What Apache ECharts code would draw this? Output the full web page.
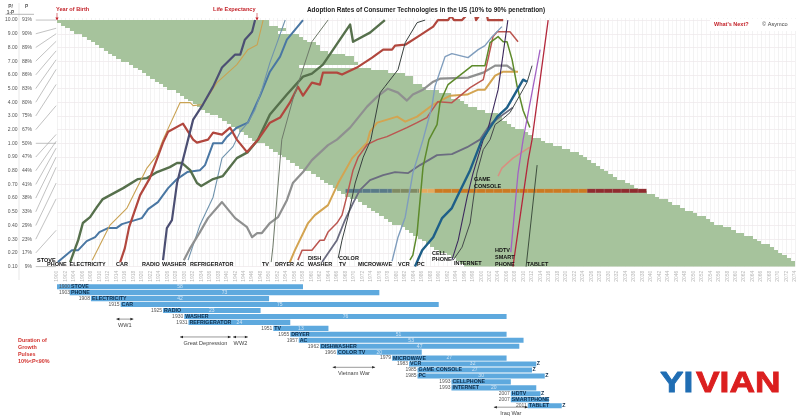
<!DOCTYPE html>
<html><head><meta charset="utf-8">
<style>html,body{margin:0;padding:0;background:#fff}#c{width:800px;height:417px}</style>
<script src="https://cdn.jsdelivr.net/npm/echarts@6/dist/echarts.min.js"></script>
</head><body><div id="c"></div>
<script>
const ratioTicks=['0.10','0.20','0.30','0.40','0.50','0.60','0.70','0.80','0.90','1.00','2.00','3.00','4.00','5.00','6.00','7.00','8.00','9.00','10.00'];
const percentTicks=['9%','17%','23%','29%','33%','38%','41%','44%','47%','50%','67%','75%','80%','83%','86%','88%','89%','90%','91%'];
const leaderTargets=[0,2.65,4.95,6.1,7.25,8.0,8.65,9.15,9.65,9,11.75,13.3,14.4,15.1,15.75,16.45,17,17.4,18];

const rowBirth=[1900,1901,1902,1903,1904,1906,1907,1908,1909,1910,1911,1912,1913,1914,1915,1917,1918,1919,1920,1921,1922,1923,1924,1925,1926,1928,1929,1930,1931,1932,1933,1934,1935,1936,1938,1939,1940,1941,1942,1943,1944,1945,1946,1947,1949,1950,1951,1952,1953,1954,1955,1956,1957,1958,1960,1961,1962,1963,1964,1965,1966,1967,1968,1969,1971,1972,1973,1974,1975,1976,1977,1978,1979,1981,1982,1983,1984,1985,1986,1987,1988,1989,1990,1992,1993,1994,1995,1996];
const rowEnd=[1950,1950,1952,1954,1952,1957,1958,1959,1961,1962,1962,1964,1968,1970,1970,1971,1957,1974,1978,1982,1984,1984,1984,1986,1987,1990,1993,1993,1995,1996,1997,1999,2001,2004,2005,2005,2006,2007,2008,2010,2011,2012,2014,2015,2017,2019,2021,2023,2024,2025,2026,2027,2028,2029,2030,2031,2032,2034,2035,2036,2037,2039,2041,2042,2044,2045,2047,2048,2050,2051,2053,2054,2055,2057,2059,2060,2062,2064,2065,2066,2068,2069,2070,2071,2072,2073,2074,2074];

const stripRatio=0.653;
const stripFrom=[1968,1979,1985.4,1989,2025];
const stripTo=[1979,1985.4,1989,2025,2039];
const stripColors=['#587a87','#7f8a62','#e4aa5e','#cb7a22','#8f2b2f'];

const stove=[[1900.2,.133],[1903.5,.22],[1905,.22],[1907,.286],[1909,.315],[1910,.352],[1912,.381],[1914,.381],[1915.3,.41],[1920,.454],[1921.5,.52],[1923.8,.571],[1926.2,.673],[1928.3,.739],[1930.7,.79],[1933.7,.804],[1934.9,.841],[1936.8,1],[1938.9,1],[1939.9,1.42],[1942.4,2.15],[1945,2.51],[1947.9,4.48],[1950.2,6.23],[1952.6,7.33],[1954.2,8.57],[1958,10]];
const refrigerator=[[1930.9,.147],[1933.7,.403],[1936.8,.607],[1938.9,.892],[1941.5,.976],[1943.2,1.85],[1945,2.51],[1946.7,3.46],[1948.3,4.92],[1950.2,6.89],[1951.9,8.35],[1953.8,10]];
const phone=[[1903.1,.133],[1905,.293],[1906.1,.418],[1907.8,.461],[1909.4,.534],[1910.8,.593],[1915.6,.673],[1919.1,.739],[1921.2,.746],[1923.6,.79],[1926.6,.826],[1928.3,.856],[1929.5,.856],[1931.4,.804],[1933,.71],[1934,.688],[1936.8,.739],[1939.1,.761],[1942.4,.892],[1945,.936],[1947.4,1.27],[1950.2,3.1],[1954.2,4.56],[1958,5.87],[1960.1,6.09],[1962.7,6.75],[1965.1,7.84],[1969.1,9.67],[1969.8,8.42],[1973.8,9.08],[1977.3,10]];
const electricity=[[1908.3,.147],[1912.5,.403],[1916.5,.527],[1921.2,.819],[1923.6,.914],[1925,1.27],[1929,3.97],[1931.4,3.97],[1932.1,3.75],[1934.4,3.83],[1937.7,5.43],[1942.4,6.75],[1945,7.84],[1947.2,8.2],[1948.6,10]];
const car=[[1914.9,.133],[1916,.235],[1917,.388],[1919.6,.622],[1921.9,.746],[1925,1.05],[1926.2,1.85],[1929.7,2.44],[1932.1,1.27],[1933,1.05],[1935.6,1.27],[1936.8,1.78],[1938.9,1.64],[1940.8,2.15],[1942.4,1.27],[1944.8,.936],[1947.4,1.27],[1950.2,2.51],[1952.6,2.88],[1954.9,3.97],[1956.8,5.14],[1958,4.48],[1960.1,5.43],[1962,5.29],[1962.7,6.16],[1966,6.16],[1967.2,6.02],[1970.7,6.53],[1974.3,7.26],[1976.9,7.84],[1979,7.84],[1979.7,8.13],[1982.1,8.2],[1985.1,8.79],[1988.7,9.52],[1989.8,10],[1992.2,10],[1992.9,10.3],[1993.6,10],[1995.5,10],[1996.4,10.3],[1998.6,10.3],[1998.8,10],[1999,10],[1999.5,10.3],[2001.4,10.3],[2001.6,10],[2005.2,10]];
const radio=[[1925,.147],[1925.9,.381],[1927.1,.439],[1928.3,.71],[1930.9,1.27],[1932.1,2.73],[1934.4,3.83],[1936.8,5.14],[1938.9,6.53],[1942,7.48],[1943.2,7.48],[1944.3,8.57],[1946,9.15],[1946.7,10]];
const washer=[[1929.9,.147],[1931.4,.235],[1933.7,.352],[1935.6,.454],[1938.9,.571],[1942,.454],[1944.8,.388],[1946,.315],[1947.2,.345],[1948.3,.345],[1950.2,.418],[1952.1,.461],[1954.2,.585],[1955.6,.71],[1958,.79],[1960.1,.877],[1963.9,.987],[1966,1.27],[1969.1,2.15],[1973.1,3.68],[1975.5,4.41],[1978,4.99],[1980.4,4.7],[1982.5,4.12],[1983.9,4.56],[1986.3,4.92],[1988.7,5.5],[1990.3,5.72],[1996.9,5.8],[2000.5,6.16],[2003.3,6.67],[2006.1,6.67],[2008,6.23]];
const tv=[[1950.5,.133],[1950.9,.242],[1953,1.27],[1955.6,4.19],[1960.1,8.42],[1963.9,10]];
const dryer=[[1954.9,.133],[1956.1,.22],[1959.2,.418],[1960.8,.476],[1963.9,.549],[1966.3,.71],[1969.6,.892],[1973.1,1.05],[1973.8,1.85],[1975.5,2.51],[1980.2,2.95],[1982.1,2.58],[1984.9,2.95],[1988.7,3.83],[1992.7,4.48],[1996.7,4.56],[1999.3,4.92],[2000.9,4.92],[2003.3,5.94],[2005.2,6.23],[2008.7,6.23]];
const ac=[[1956.8,.147],[1957.8,.22],[1960.1,.22],[1962,.293],[1963,.293],[1963.9,.352],[1966,.418],[1967.2,.476],[1968.4,.622],[1969.8,.804],[1971,.899],[1973.1,.99],[1975.5,1.27],[1977.8,1.49],[1982.5,2.15],[1984.9,2.51],[1987.2,2.88],[1989.8,4.04],[1993.1,3.97],[1997.4,5.07],[2000.5,5.65],[2001.6,7.11],[2002.8,8.79],[2003.8,9.15],[2006.8,9.15],[2008.7,8.42]];
const dishwasher=[[1962.5,.133],[1966,.293],[1967.9,.44],[1969.8,.564],[1971.4,.658],[1973.8,.731],[1976.9,.768],[1979.7,.79],[1982.8,.783],[1985.6,.841],[1989.6,.914],[1993.1,.921],[1996.7,.972],[1999.7,1.27],[2002.1,2.37],[2004.5,2.95],[2007.5,3.61]];
const colorTv=[[1966.3,.162],[1967.2,.293],[1968.6,.461],[1970.3,.71],[1972.2,.899],[1974,1.27],[1976.2,4.7],[1977.3,5.14],[1980.4,6.38],[1982.1,8.35],[1984.9,9.81],[1986.8,10]];
const microwave=[[1979,.14],[1980.4,.315],[1982.1,.461],[1983.9,.783],[1986.3,1.27],[1988.4,3.68],[1989.1,5.14],[1991.5,7.33],[1993.1,7.55],[1996.9,7.26],[1999.3,7.84],[2000.9,8.13],[2002.6,8.79],[2004.9,9.52]];
const vcr=[[1983.2,.147],[1983.9,.184],[1984.9,.345],[1986.3,.826],[1987.7,1.27],[1989.6,2.37],[1990.3,3.97],[1992.2,5.29],[1997.9,6.67],[2000.9,6.67],[2002.1,8.35],[2004,8.79],[2005.2,8.42],[2006.1,8.42],[2007.3,7.11],[2008.5,5.14],[2009.9,3.4],[2011.5,2.15]];
const cellphone=[[1993.1,.147],[1994.6,.293],[1996.7,.607],[1998.1,.783],[2000.5,1.27],[2001.4,1.78],[2004,4.92],[2006.3,10]];
const internet=[[1993.4,.147],[1995.5,.242],[1997.4,.418],[1999,.783],[2000.5,.954],[2002.1,1.27],[2003.3,2.37],[2004.9,2.73],[2006.8,3.24],[2010.8,5.43],[2012,6.67]];
const pc=[[1984.4,.1],[1986.1,.22],[1988.7,.315],[1990.8,.454],[1993.1,.527],[1994.3,.607],[1997.4,.804],[2000.2,1.27],[2003.8,2.95],[2006.1,3.61],[2009.9,5.65],[2010.8,5.5]];
const hdtv=[[2007,.206],[2008.7,.783],[2009.9,1.27],[2013.9,7.84]];
const smartphone=[[2007.5,.1],[2011.1,.877],[2012,1.27],[2015.8,10]];
const tablet=[[2010.6,.1],[2013.2,.841]];
const gameConsole=[[2004,.761],[2004.9,.819],[2007.5,.892],[2011.5,.972]];

const techNames=['STOVE','PHONE','ELECTRICITY','CAR','RADIO','WASHER','REFRIGERATOR','TV','DRYER','AC','DISHWASHER','COLOR TV','MICROWAVE','VCR','GAME CONSOLE','PC','CELLPHONE','INTERNET','HDTV','SMARTPHONE','TABLET'];
const techStart=[1900,1903,1908,1915,1925,1930,1931,1951,1955,1957,1962,1966,1979,1983,1985,1985,1993,1993,2007,2007,2011];
const techDuration=[58,73,42,75,23,76,24,13,51,53,47,20,27,30,27,30,14,20,7,9,8];
const techShownDuration=['58','73','42','75','23','76','24','13','51','53','47','20','27','32','27','30','','20','','',''];
const techOngoing=[0,0,0,0,0,0,0,0,0,0,0,0,0,1,1,1,0,0,1,0,1];

const warNames=['WW1','Great Depression','WW2','Vietnam War','Iraq War'];
const warFrom=[1914,1929,1941.5,1965,2003];
const warTo=[1918,1941,1945,1975,2011];
const warRow=[5.45,8.45,8.45,13.55,20.25];

const F='"Liberation Sans",Arial,sans-serif';
const rank=v=>v<1?10*v-1:v+8;
const rowRank=i=>18-i*18/88;

const lineDefs=[
 ['Stove',stove,'#4a77a3',2],['Refrigerator',refrigerator,'#6f93ad',1.1],['Phone',phone,'#56704c',2.4],
 ['Electricity',electricity,'#c9a253',1.1],['Car',car,'#b1473e',2.2],['Radio',radio,'#4c4f73',2.2],
 ['Washer',washer,'#8f9090',2.2],['TV',tv,'#6f7a6a',1],['Dryer',dryer,'#d3a451',2],['AC',ac,'#bb5650',1.5],
 ['Dishwasher',dishwasher,'#6b6c80',1.8],['Color TV',colorTv,'#38403e',1],['Microwave',microwave,'#7f9dbd',1.4],
 ['VCR',vcr,'#5d8a2b',1.5],['Game console',gameConsole,'#d98f80',1.5],['Cellphone',cellphone,'#3d2a5e',1.1],['Internet',internet,'#444a4a',1],
 ['PC',pc,'#1e5f88',2.4],['HDTV',hdtv,'#a262c4',1.3],['Smartphone',smartphone,'#b3283c',1.3],['Tablet',tablet,'#3f4f3f',1]
];
const series=[];
series.push({type:'custom',name:'Life span',xAxisIndex:0,yAxisIndex:0,z:2,silent:true,clip:true,data:rowBirth.map((b,i)=>[b,rowEnd[i],i]),
 renderItem(p,api){const i=api.value(2);const a=api.coord([api.value(0),rowRank(i)]),c=api.coord([api.value(1),rowRank(i+1)]);
  const y0=Math.round(a[1]),y1=Math.round(c[1]);
  return{type:'rect',shape:{x:Math.round(a[0]),y:y0,width:Math.round(c[0])-Math.round(a[0]),height:y1-y0},style:{fill:'#a6c39c'}}}});
series.push({type:'custom',name:'Strip',xAxisIndex:0,yAxisIndex:0,z:3,silent:true,data:stripFrom.map((s,i)=>[s,stripTo[i],i]),
 renderItem(p,api){const i=api.value(2),s=api.value(0),e=api.value(1),ch=[];const r=rank(stripRatio);
  for(let y=s;y<e;y+=2){const a=api.coord([y,r+.147]),c=api.coord([Math.min(y+2,e),r-.147]);
   ch.push({type:'rect',shape:{x:a[0],y:a[1],width:c[0]-a[0],height:c[1]-a[1]},style:{fill:stripColors[i],stroke:'rgba(255,255,255,.18)',lineWidth:.5}});}
  return{type:'group',children:ch}}});
series.push({type:'custom',name:'Leaders',xAxisIndex:0,yAxisIndex:0,z:4,silent:true,clip:false,data:leaderTargets.map((t,i)=>[i,t]),
 renderItem(p,api){const a=api.coord([1895,api.value(0)]),b=api.coord([1899.8,api.value(1)]);
  return{type:'line',shape:{x1:a[0],y1:a[1],x2:b[0],y2:b[1]},style:{stroke:'#a8a8a8',lineWidth:.7}}}});
lineDefs.forEach(([n,d,c,w])=>series.push({type:'line',name:n,xAxisIndex:0,yAxisIndex:0,z:5,silent:true,showSymbol:false,symbol:'none',clip:true,
 data:d.map(q=>[q[0],rank(q[1])]),lineStyle:{color:c,width:w,join:'round'},animation:false}));
series.push({type:'custom',name:'Durations',xAxisIndex:1,yAxisIndex:2,z:6,silent:true,clip:false,data:techNames.map((n,i)=>[i]),
 renderItem(p,api){const i=api.value(0),a=api.coord([techStart[i],i]),b=api.coord([techStart[i]+techDuration[i],i]);
  const h=5.1,kids=[{type:'rect',shape:{x:a[0],y:a[1]-h/2,width:b[0]-a[0],height:h},style:{fill:'#5ea9de'}}];
  kids.push({type:'text',style:{x:Math.max(a[0]-1,70),y:a[1],text:String(techStart[i]),align:'right',verticalAlign:'middle',font:'5px '+F,fill:'#555'}});
  kids.push({type:'text',style:{x:Math.max(a[0]+1,71),y:a[1],text:techNames[i],align:'left',verticalAlign:'middle',font:'bold 5.3px '+F,fill:'#0c2c4a'}});
  if(techShownDuration[i])kids.push({type:'text',style:{x:(a[0]+b[0])/2,y:a[1],text:techShownDuration[i],align:'center',verticalAlign:'middle',font:'5px '+F,fill:'#cfe4f5'}});
  if(techOngoing[i])kids.push({type:'text',style:{x:b[0]+.5,y:a[1],text:'Z',align:'left',verticalAlign:'middle',font:'bold 5.3px '+F,fill:'#0c2c4a'}});
  return{type:'group',children:kids}}});
series.push({type:'custom',name:'Wars',xAxisIndex:1,yAxisIndex:2,z:7,silent:true,clip:false,data:warNames.map((n,i)=>[i]),
 renderItem(p,api){const i=api.value(0),a=api.coord([warFrom[i],warRow[i]]),b=api.coord([warTo[i],warRow[i]]),y=a[1];
  const tri=(x,d)=>({type:'polygon',shape:{points:[[x,y],[x+d*3,y-1.3],[x+d*3,y+1.3]]},style:{fill:'#222'}});
  return{type:'group',children:[{type:'line',shape:{x1:a[0],y1:y,x2:b[0],y2:y},style:{stroke:'#333',lineWidth:.5}},tri(a[0],1),tri(b[0],-1),
   {type:'text',style:{x:(a[0]+b[0])/2,y:y+6,text:warNames[i],align:'center',verticalAlign:'middle',font:'5.6px '+F,fill:'#444'}}]}}});

const txt=(x,y,t,o={})=>({type:'text',x,y,z:20,silent:true,style:Object.assign({text:t,font:(o.b?'bold ':'')+(o.s||5.5)+'px '+F,fill:o.c||'#111',align:o.a||'left',verticalAlign:'middle'},o.st||{}),...(o.g||{})});
const seg=(x1,y1,x2,y2,c,w)=>({type:'line',z:20,silent:true,shape:{x1,y1,x2,y2},style:{stroke:c,lineWidth:w||.7}});
const arrow=(x,y1,y2)=>[seg(x,y1,x,y2,'#c4242b',.6),{type:'polygon',z:20,silent:true,shape:{points:[[x,y2+1],[x-1.6,y2-2],[x+1.6,y2-2]]},style:{fill:'#c4242b'}}];
const L='#111';
const graphic=[
 seg(19,3,19,280,'#ddd',.7),seg(5.5,14.3,34,14.3,'#888',.6),
 txt(10.5,6.3,'P/',{b:1,s:4.8,c:'#555',a:'center'}),txt(10.5,12.7,'1-P',{b:1,s:4.8,c:'#555',a:'center'}),txt(26.5,6.3,'P',{b:1,s:4.8,c:'#555',a:'center'}),
 txt(307,10.5,'Adoption Rates of Consumer Technologies in the US (10% to 90% penetration)',{b:1,s:6.4,c:'#222'}),
 txt(56,9.2,'Year of Birth',{b:1,s:5.6,c:'#c4242b'}),...arrow(57,13,19.5),
 txt(213,9.2,'Life Expectancy',{b:1,s:5.6,c:'#c4242b'}),...arrow(257,13,19.5),
 {type:'rect',z:19,silent:true,shape:{x:710,y:19,width:86,height:12},style:{fill:'#fff'}},
 txt(714,24.6,"What's Next?",{b:1,s:5.5,c:'#c4242b'}),txt(762,24.5,'© Asymco',{s:5.6,c:'#444'}),
 txt(37,260,'STOVE',{b:1,c:L}),txt(47,264,'PHONE',{b:1,c:L}),txt(69.5,264,'ELECTRICITY',{b:1,c:L}),txt(116,264.5,'CAR',{b:1,c:L}),
 txt(142,264,'RADIO',{b:1,c:L}),txt(162,264.5,'WASHER',{b:1,c:L}),txt(190,264,'REFRIGERATOR',{b:1,c:L}),txt(262,264,'TV',{b:1,c:L}),
 txt(275,264.5,'DRYER',{b:1,c:L}),txt(296,264.5,'AC',{b:1,c:L}),txt(308,258,'DISH',{b:1,c:L}),txt(308,264.5,'WASHER',{b:1,c:L}),
 txt(339,258,'COLOR',{b:1,c:L}),txt(339,264.5,'TV',{b:1,c:L}),txt(358,264.5,'MICROWAVE',{b:1,c:L}),txt(398,264.5,'VCR',{b:1,c:L}),txt(417,264.5,'PC',{b:1,c:L}),
 txt(432,253.3,'CELL',{b:1,c:L}),txt(432,259.5,'PHONE',{b:1,c:L}),txt(454,263.5,'INTERNET',{b:1,c:L}),
 txt(474,179.3,'GAME',{b:1,c:L}),txt(474,186,'CONSOLE',{b:1,c:L}),txt(495,250,'HDTV',{b:1,c:L}),txt(495,257.7,'SMART',{b:1,c:L}),txt(495,264,'PHONE',{b:1,c:L}),txt(527,264.5,'TABLET',{b:1,c:L}),
 txt(18,340.3,'Duration of',{b:1,s:5.4,c:'#d2332f'}),txt(18,347.3,'Growth',{b:1,s:5.4,c:'#d2332f'}),txt(18,354.3,'Pulses',{b:1,s:5.4,c:'#d2332f'}),txt(18,361.3,'10%<P<90%',{b:1,s:5.4,c:'#d2332f'}),
 txt(660,383.8,'YI',{b:1,s:29,c:'#1f6db3',st:{stroke:'#1f6db3',lineWidth:.8},g:{scaleX:1.22}}),
 txt(696,383.8,'VIAN',{b:1,s:29,c:'#db1f1f',st:{stroke:'#db1f1f',lineWidth:.8},g:{scaleX:1.22}})
];

const option={animation:false,backgroundColor:'#fff',textStyle:{fontFamily:F},
 grid:[{left:57,top:18,width:738,height:248.6},{left:57,top:283.7,width:738,height:133.3}],
 xAxis:[
  {type:'value',gridIndex:0,min:1900,max:2074,interval:2,axisLine:{show:false},axisTick:{show:false},
   axisLabel:{rotate:90,fontSize:5,color:'#b8b8b8',margin:4,fontFamily:F,formatter:v=>String(v),hideOverlap:false},
   splitLine:{show:true,lineStyle:{color:'#e9e9e9',width:.6}},minorTick:{show:false,splitNumber:2},minorSplitLine:{show:true,lineStyle:{color:'#f0f0f0',width:.6}}},
  {type:'value',gridIndex:1,min:1900,max:2074,show:false}],
 yAxis:[
  {type:'value',gridIndex:0,min:0,max:18.15,interval:1,axisLine:{show:false},axisTick:{show:false},
   axisLabel:{fontSize:5,color:'#555',margin:39.5,fontFamily:F,showMaxLabel:false,formatter:v=>ratioTicks[v]||''},
   splitLine:{show:true,showMaxLine:false,lineStyle:{color:'#eee6ea',width:.7}}},
  {type:'value',gridIndex:0,position:'left',min:0,max:18.15,interval:1,axisLine:{show:false},axisTick:{show:false},splitLine:{show:false},
   axisLabel:{fontSize:5,color:'#555',margin:25,fontFamily:F,showMaxLabel:false,formatter:v=>percentTicks[v]||''}},
  {type:'value',gridIndex:1,inverse:true,min:-0.5,max:21.9,show:false}],
 series,graphic};
echarts.init(document.getElementById('c'),null,{renderer:'canvas'}).setOption(option);
</script></body></html>
